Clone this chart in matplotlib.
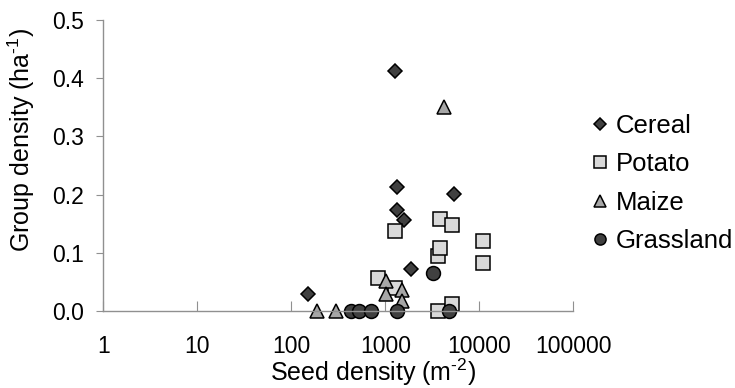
import matplotlib
matplotlib.use("Agg")
import matplotlib.pyplot as plt

plt.rcParams["font.family"] = ["Liberation Sans", "DejaVu Sans"]
plt.rcParams["mathtext.fontset"] = "custom"
plt.rcParams["mathtext.rm"] = "Liberation Sans"
plt.rcParams["mathtext.default"] = "regular"

# seed density (m-2) and group density (ha-1)
cereal_x = [151, 1262, 1327, 1327, 1564, 1889, 5430]
cereal_y = [0.030, 0.413, 0.214, 0.174, 0.156, 0.073, 0.201]

potato_x = [840, 1262, 1262, 3666, 3666, 3787, 3787, 5085, 5085, 10900, 10900]
potato_y = [0.056, 0.138, 0.039, 0.095, 0.0, 0.158, 0.109, 0.147, 0.012, 0.120, 0.083]

maize_x = [188, 299, 1012, 1012, 1514, 1514, 4180]
maize_y = [0.0, 0.0, 0.052, 0.030, 0.036, 0.018, 0.350]

grass_x = [432, 522, 707, 1327, 3244, 4760]
grass_y = [0.0, 0.0, 0.0, 0.0, 0.065, 0.0]

x_ticks = [1, 10, 100, 1000, 10000, 100000]
y_ticks = [0.0, 0.1, 0.2, 0.3, 0.4, 0.5]

fig = plt.figure(figsize=(7.35, 3.88), dpi=100)
ax = fig.add_axes([0.1405, 0.1985, 0.6395, 0.7495])

edge = dict(markeredgecolor="black", markeredgewidth=1.1, linestyle="none", clip_on=False)
ax.plot(cereal_x, cereal_y, marker="D", markersize=7.6, markerfacecolor="#404040", label="Cereal", **edge)
ax.plot(potato_x, potato_y, marker="s", markersize=10, markerfacecolor="#d9d9d9", label="Potato", **edge)
ax.plot(maize_x, maize_y, marker="^", markersize=10, markerfacecolor="#a6a6a6", label="Maize", **edge)
ax.plot(grass_x, grass_y, marker="o", markersize=10, markerfacecolor="#404040", label="Grassland", **edge)

ax.set_xscale("log")
ax.set_xlim(1, 100000)
ax.set_ylim(0, 0.5)
ax.set_xticks(x_ticks)
ax.set_xticklabels([str(v) for v in x_ticks])
ax.minorticks_off()
ax.set_yticks(y_ticks)
ax.set_yticklabels([f"{v:.1f}" for v in y_ticks])

for s in ["top", "right"]:
    ax.spines[s].set_visible(False)
for s in ["left", "bottom"]:
    ax.spines[s].set_color("#909090")
    ax.spines[s].set_linewidth(1.0)

ax.tick_params(axis="x", direction="in", length=7, color="#909090", labelsize=16.5, pad=17)
ax.tick_params(axis="y", direction="out", length=5, color="#909090", labelsize=16.5, pad=9)

ax.set_xlabel(r"Seed density (m$^{\text{-2}}$)", fontsize=18)
ax.set_ylabel(r"Group density (ha$^{\text{-1}}$)", fontsize=18)
ax.xaxis.set_label_coords(0.573, -0.158)
ax.yaxis.set_label_coords(-0.141, 0.588)

leg = ax.legend(loc="upper left", bbox_to_anchor=(0.804, 0.7064), bbox_transform=fig.transFigure,
                frameon=False, fontsize=18.5, markerscale=0.8, handlelength=0.7,
                handletextpad=0.27, labelspacing=0.56, borderpad=0.0, borderaxespad=0.0)

fig.savefig("out.png", dpi=100)
